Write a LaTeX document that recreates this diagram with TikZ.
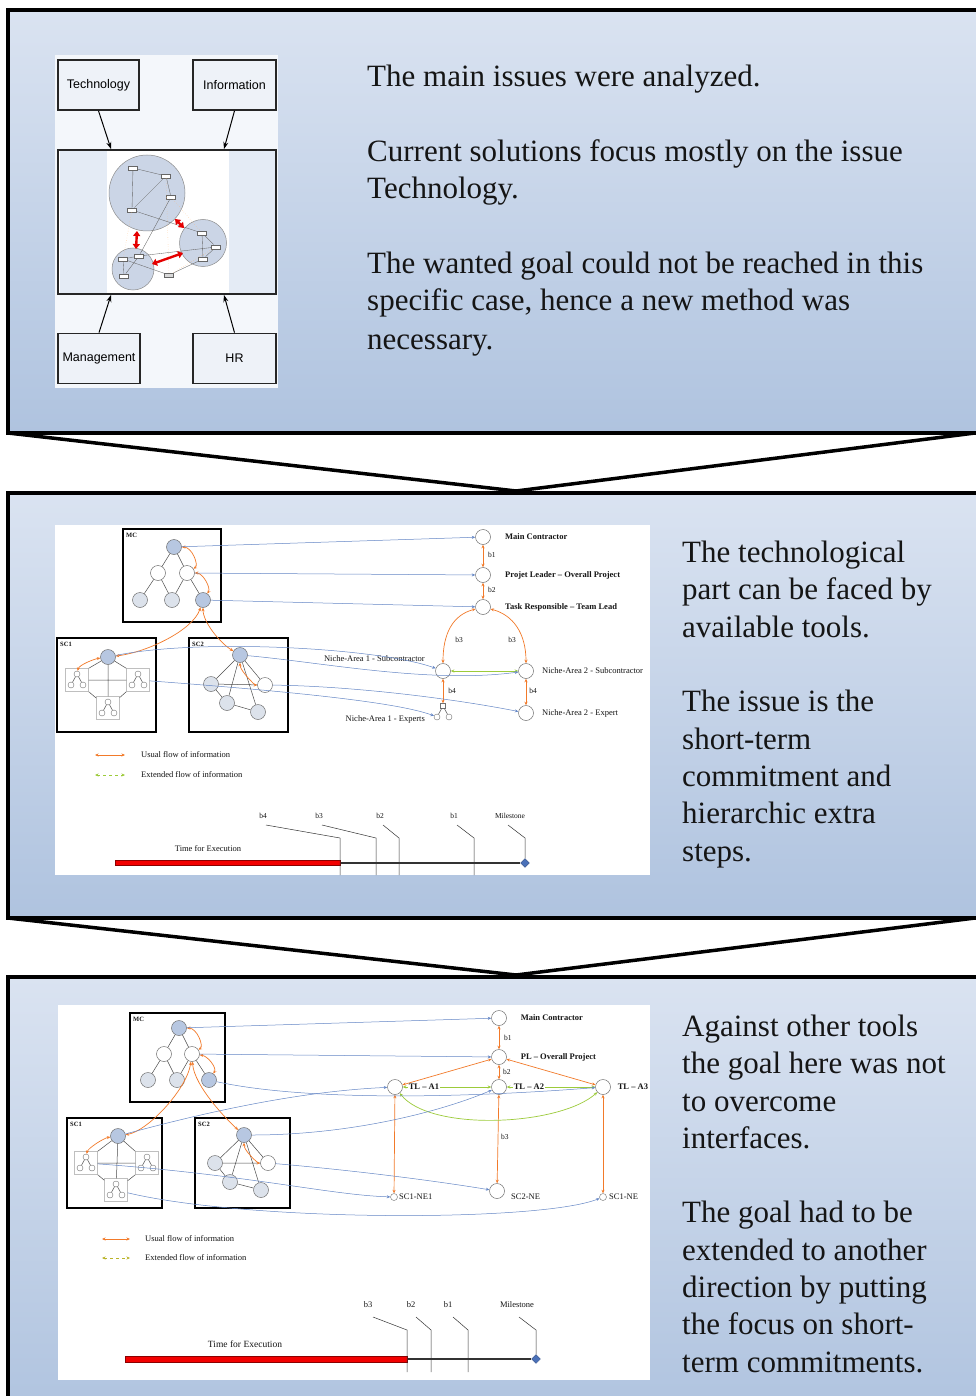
\documentclass[tikz,border=0pt]{standalone}
\usepackage{fontspec}
\setmainfont{Liberation Serif}
\newfontfamily\boxfont{Liberation Sans}
\usetikzlibrary{arrows.meta,shapes.geometric,calc}

\definecolor{paneltop}{HTML}{DAE3F1}
\definecolor{panelbot}{HTML}{AFC3DF}
\definecolor{ink}{HTML}{151515}
\definecolor{flowor}{HTML}{F27A2A}
\definecolor{flowgr}{HTML}{9CCB3A}
\definecolor{linkbl}{HTML}{6587C6}
\definecolor{nodetop}{HTML}{B7C7E1}
\definecolor{nodelow}{HTML}{DCE2EB}
\definecolor{nodeedge}{HTML}{707070}
\definecolor{bubble}{HTML}{CBD5E6}
\definecolor{imgbg}{HTML}{F4F7FB}
\definecolor{issuefill}{HTML}{EEF2F8}
\definecolor{corestrip}{HTML}{E4EBF5}
\definecolor{diamondbl}{HTML}{4A70B8}

\newcommand\bigtext{\fontsize{31}{37.5}\selectfont}

\tikzset{
  panel/.style={draw=black, line width=3.5pt, top color=paneltop, bottom color=panelbot},
  chevron/.style={draw=black, line width=3.5pt, fill=white, line join=miter},
  headline/.style={anchor=base west, inner sep=0pt, text=ink, font=\bigtext},
  issuebox/.style={draw=black!85, line width=1.7pt, fill=issuefill, font=\boxfont\fontsize{12.5}{14}\selectfont, inner sep=0pt, minimum height=50pt},
  issuearrow/.style={draw=black, line width=1pt, -{Stealth[length=7pt,width=5pt]}},
  bubblenode/.style={circle, draw=black!45, line width=0.5pt, fill=bubble, inner sep=0pt},
  chip/.style={draw=black!60, line width=0.4pt, fill=white, minimum width=9pt, minimum height=4.5pt, inner sep=0pt},
  thinlink/.style={draw=black!60, line width=0.35pt},
  paleline/.style={draw=orange!60, line width=0.35pt, dotted},
  redlink/.style={draw=red!90!black, line width=2.4pt, {Triangle[length=5pt,width=7pt]}-{Triangle[length=5pt,width=7pt]}},
  grpbox/.style={draw=black, line width=1.8pt},
  grplabel/.style={anchor=north west, inner sep=0pt, text=ink, font=\bfseries\fontsize{6.5}{7}\selectfont},
  nd/.style={circle, draw=nodeedge, line width=0.5pt, fill=white, minimum size=15pt, inner sep=0pt},
  ndtop/.style={nd, fill=nodetop},
  ndlow/.style={nd, fill=nodelow},
  dot/.style={circle, draw=nodeedge, line width=0.4pt, fill=white, minimum size=6pt, inner sep=0pt},
  tie/.style={draw=black!70, line width=0.5pt},
  uflow/.style={draw=flowor, line width=0.7pt, {Stealth[length=3.5pt,width=3pt]}-{Stealth[length=3.5pt,width=3pt]}},
  eflow/.style={draw=flowgr, line width=0.7pt, {Stealth[length=3.5pt,width=3pt]}-{Stealth[length=3.5pt,width=3pt]}},
  link/.style={draw=linkbl, line width=0.5pt, -{Stealth[length=3.5pt,width=3pt]}},
  lbl/.style={inner sep=0pt, text=ink, font=\fontsize{8.5}{10}\selectfont},
  lblb/.style={inner sep=0pt, text=ink, font=\bfseries\fontsize{8.5}{10}\selectfont},
  rolelbl/.style={lblb, anchor=west, fill=white, inner sep=0.6pt},
  smalllbl/.style={inner sep=0pt, text=ink, font=\fontsize{7.5}{9}\selectfont},
  tick/.style={draw=black!80, line width=0.5pt},
  milebar/.style={draw=black!80, line width=1.6pt},
  execbar/.style={draw=red!55!black, line width=0.4pt, fill=red!95!black},
  milestone/.style={diamond, fill=diamondbl, draw=diamondbl!70!black, line width=0.3pt, minimum size=9pt, inner sep=0pt},
  minitree/.pic={
    \node[draw=black!25, line width=0.4pt, minimum width=23pt, minimum height=23pt, inner sep=0pt] (-box) at (0,0) {};
    \node[dot] (-top) at (0,-6) {};
    \node[dot] (-l) at (-6,5) {};
    \node[dot] (-r) at (6,5) {};
    \draw[tie] (-top) -- (-l) (-top) -- (-r);
  }
}

\begin{document}
\begin{tikzpicture}[x=1pt, y=-1pt]
\useasboundingbox (0,0) rectangle (975,1396);

% ---------- three panels and the chevrons between them ----------
\path[panel] (8,10) rectangle (995,433);
\path[panel] (8,493) rectangle (995,918);
\path[panel] (8,977) rectangle (995,1420);
\draw[chevron] (8,433) -- (975,433) -- (516,491) -- cycle;
\draw[chevron] (8,918) -- (975,918) -- (516,975) -- cycle;

% ---------- panel 1: the four issues ----------
\fill[imgbg] (55,55) rectangle (278,388);
\node[issuebox, minimum width=81pt] (tech) at (98.5,85) {Technology};
\node[issuebox, minimum width=83pt] (info) at (234.5,85) {Information};
\node[issuebox, minimum width=218pt, minimum height=144pt, fill=white] (core) at (167,222) {};
\fill[corestrip] (59.5,151) rectangle (107,293);
\fill[corestrip] (229,151) rectangle (275,293);
\node[issuebox, minimum width=82pt] (mgmt) at (99,358.5) {Management};
\node[issuebox, minimum width=83pt] (hr) at (234.5,358.5) {HR};
\coordinate (coreTL) at (111,149);
\coordinate (coreTR) at (224,149);
\coordinate (coreBL) at (111,295);
\coordinate (coreBR) at (224,295);
\draw[issuearrow] (tech.south) -- (coreTL);
\draw[issuearrow] (info.south) -- (coreTR);
\draw[issuearrow] (mgmt.north) -- (coreBL);
\draw[issuearrow] (hr.north) -- (coreBR);

% network of three clusters inside the core box
\node[bubblenode, minimum size=76pt] (cbig) at (147,193) {};
\node[bubblenode, minimum size=47pt] (cright) at (203,243) {};
\node[bubblenode, minimum size=42pt] (cleft) at (133,269) {};
\node[chip] (k1) at (133,168) {};
\node[chip] (k2) at (166,176) {};
\node[chip] (k3) at (171,197) {};
\node[chip] (k4) at (132,210) {};
\node[chip] (k5) at (202,233) {};
\node[chip] (k6) at (216,247) {};
\node[chip] (k7) at (203,259) {};
\node[chip] (k8) at (123,259) {};
\node[chip] (k9) at (139,256) {};
\node[chip] (k10) at (124,276) {};
\node[chip, fill=black!15] (k11) at (169,275) {};
\draw[thinlink] (k1) -- (k2) (k2) -- (k3) (k1) -- (k4) (k2) -- (k4) (k3) -- (k9)
  (k5) -- (k6) (k6) -- (k7) (k5) -- (k7) (k9) -- (k6) (k8) -- (k9) (k8) -- (k10) (k9) -- (k10)
  (k11) -- (k7) (k11) -- (k8) (k4) -- (k5);
\draw[paleline] (k3) -- (k5) (k4) -- (k8) (k11) -- (k6) (k2) -- (k11);
\coordinate (ra1) at (137,231);
\coordinate (ra2) at (136,249);
\coordinate (rb1) at (175,219);
\coordinate (rb2) at (184,228);
\coordinate (rc1) at (152,264);
\coordinate (rc2) at (183,253);
\draw[redlink] (ra1) -- (ra2);
\draw[redlink] (rb1) -- (rb2);
\draw[redlink] (rc1) -- (rc2);

% panel 1 statements
\node[headline] (p1a) at (367,87) {The main issues were analyzed.};
\node[headline] (p1b) at (367,162) {Current solutions focus mostly on the issue};
\node[headline] (p1c) at (367,199) {Technology.};
\node[headline] (p1d) at (367,274) {The wanted goal could not be reached in this};
\node[headline] (p1e) at (367,311) {specific case, hence a new method was};
\node[headline] (p1f) at (367,349) {necessary.};

% ---------- panel 2: hierarchic flow ----------
\fill[white] (55,525) rectangle (650,875);

\draw[grpbox] (123,529) rectangle (221,622);
\node[grplabel] (mclbl) at (126,533) {MC};
\node[ndtop] (mc0) at (174,547) {};
\node[nd] (mc1) at (158,573) {};
\node[nd] (mc2) at (187,573) {};
\node[ndlow] (mc3) at (140,600) {};
\node[ndlow] (mc4) at (172,600) {};
\node[ndtop] (mc5) at (203,600) {};
\draw[tie] (mc0) -- (mc1) (mc0) -- (mc2) (mc1) -- (mc3) (mc1) -- (mc4) (mc2) -- (mc4) (mc2) -- (mc5);

\draw[grpbox] (57,638) rectangle (156,732);
\node[grplabel] (sc1lbl) at (60,642) {SC1};
\node[ndtop] (s1top) at (108,657) {};
\pic (lt) at (77,680) {minitree};
\pic (rt) at (138,680) {minitree};
\pic (bt) at (108,708) {minitree};
\draw[tie] (s1top) -- (bt-box) (lt-box) -- (rt-box) (s1top) -- (lt-box.north east) (s1top) -- (rt-box.north west)
  (lt-box.south east) -- (bt-box) (rt-box.south west) -- (bt-box);

\draw[grpbox] (189,638) rectangle (288,732);
\node[grplabel] (sc2lbl) at (192,642) {SC2};
\node[ndtop] (s2a) at (240,655) {};
\node[ndlow] (s2b) at (211,684) {};
\node[nd] (s2c) at (265,685) {};
\node[ndlow] (s2d) at (227,703) {};
\node[ndlow] (s2e) at (258,712) {};
\draw[tie] (s2a) -- (s2b) (s2a) -- (s2c) (s2a) -- (s2d) (s2a) -- (s2e) (s2b) -- (s2c) (s2b) -- (s2d) (s2d) -- (s2e);

\draw[uflow] (mc0) .. controls +(18,0) and +(12,-8) .. (mc2);
\draw[uflow] (mc2) .. controls +(16,0) and +(8,-12) .. (mc5);
\draw[uflow] (mc5) .. controls +(-10,30) and +(40,-5) .. (s1top);
\draw[uflow] (mc5) .. controls +(0,22) and +(-20,-12) .. (s2a);
\draw[uflow] (s1top) .. controls +(-14,2) and +(2,-9) .. (lt-top);
\draw[uflow] (s2a) .. controls +(0,16) and +(-10,0) .. (s2c);

% roles on the right
\node[nd] (mcR) at (483,537) {};
\node[nd] (plR) at (483,575) {};
\node[nd] (trR) at (483,607) {};
\node[lblb, anchor=west] (mcRl) at (505,537) {Main Contractor};
\node[lblb, anchor=west] (plRl) at (505,575) {Projet Leader – Overall Project};
\node[lblb, anchor=west] (trRl) at (505,607) {Task Responsible – Team Lead};
\node[smalllbl, anchor=west] (b1a) at (488,555) {b1};
\node[smalllbl, anchor=west] (b2a) at (488,590) {b2};
\node[nd] (n1) at (443,671) {};
\node[nd] (n2) at (526,671) {};
\node[lbl, anchor=east] (n1l) at (425,659) {Niche-Area 1 - Subcontractor};
\node[lbl, anchor=west] (n2l) at (542,671) {Niche-Area 2 - Subcontractor};
\node[smalllbl] (b3a) at (459,640) {b3};
\node[smalllbl] (b3b) at (512,640) {b3};
\node[draw=nodeedge, line width=0.4pt, fill=white, minimum size=5pt, inner sep=0pt] (ex1) at (443,706) {};
\node[dot] (ex1l) at (437,717) {};
\node[dot] (ex1r) at (449,717) {};
\draw[tie] (ex1) -- (ex1l) (ex1) -- (ex1r);
\node[nd] (ex2) at (526,713) {};
\node[lbl, anchor=east] (ex1t) at (425,719) {Niche-Area 1 - Experts};
\node[lbl, anchor=west] (ex2t) at (542,713) {Niche-Area 2 - Expert};
\node[smalllbl] (b4a) at (452,691) {b4};
\node[smalllbl] (b4b) at (533,691) {b4};

\draw[uflow] (mcR) -- (plR);
\draw[uflow] (plR) -- (trR);
\draw[uflow] (trR) .. controls +(-30,8) and +(0,-38) .. (n1);
\draw[uflow] (trR) .. controls +(30,8) and +(0,-38) .. (n2);
\draw[uflow] (n1) -- (ex1);
\draw[uflow] (n2) -- (ex2);
\draw[eflow] (n1) -- (n2);

\draw[link] (mc0) -- (mcR);
\draw[link] (mc2) -- (plR);
\draw[link] (mc5) -- (trR);
\draw[link] (s1top) .. controls (200,638) and (380,648) .. (n1);
\draw[link] (s2a) .. controls (320,662) and (430,684) .. (n2);
\draw[link] (rt-box) .. controls (300,692) and (400,703) .. (ex1l);
\draw[link] (s2c) .. controls (350,686) and (450,698) .. (ex2);

% legend
\coordinate (lg1a) at (95,755);
\coordinate (lg1b) at (125,755);
\coordinate (lg2a) at (95,775);
\coordinate (lg2b) at (125,775);
\draw[uflow] (lg1a) -- (lg1b);
\draw[eflow, dashed] (lg2a) -- (lg2b);
\node[lbl, anchor=west] (lg1t) at (141,755) {Usual flow of information};
\node[lbl, anchor=west] (lg2t) at (141,775) {Extended flow of information};

% time line
\coordinate (ts) at (115,863);
\coordinate (tq4) at (340,863);
\node[milestone] (ms) at (525,863) {};
\draw[milebar] (tq4) -- (ms);
\draw[execbar] (115,860.5) rectangle (340,865.5);
\node[lbl] (tfe) at (208,849) {Time for Execution};
\foreach \lx/\tx/\nm in {266/340/b4, 322/376/b3, 383/399/b2, 457/474/b1} {
  \node[smalllbl] (q\nm) at (\lx-3,816) {\nm};
  \coordinate (qa\nm) at (\lx,825);
  \coordinate (qb\nm) at (\tx,838);
  \coordinate (qc\nm) at (\tx,875);
  \draw[tick] (qa\nm) -- (qb\nm) -- (qc\nm);
}
\node[smalllbl] (qms) at (510,816) {Milestone};
\coordinate (qams) at (508,825);
\coordinate (qbms) at (525,838);
\draw[tick] (qams) -- (qbms) -- (ms);

% panel 2 statements
\node[headline] (p2a) at (682,562) {The technological};
\node[headline] (p2b) at (682,599) {part can be faced by};
\node[headline] (p2c) at (682,637) {available tools.};
\node[headline] (p2d) at (682,711) {The issue is the};
\node[headline] (p2e) at (682,749) {short-term};
\node[headline] (p2f) at (682,786) {commitment and};
\node[headline] (p2g) at (682,823) {hierarchic extra};
\node[headline] (p2h) at (682,861) {steps.};

% ---------- panel 3: flow with short-term commitments ----------
\fill[white] (58,1005) rectangle (650,1380);

\draw[grpbox] (130,1013) rectangle (225,1102);
\node[grplabel] (mclbl3) at (133,1017) {MC};
\node[ndtop] (m0) at (179,1028) {};
\node[nd] (m1) at (164,1054) {};
\node[nd] (m2) at (192,1054) {};
\node[ndlow] (m3) at (148,1080) {};
\node[ndlow] (m4) at (177,1080) {};
\node[ndtop] (m5) at (209,1080) {};
\draw[tie] (m0) -- (m1) (m0) -- (m2) (m1) -- (m3) (m1) -- (m4) (m2) -- (m4) (m2) -- (m5);

\draw[grpbox] (67,1118) rectangle (162,1208);
\node[grplabel] (sc1lbl3) at (70,1122) {SC1};
\node[ndtop] (t0) at (118,1136) {};
\pic (tl) at (86,1163) {minitree};
\pic (tr) at (147,1163) {minitree};
\pic (tb) at (116,1190) {minitree};
\draw[tie] (t0) -- (tb-box) (tl-box) -- (tr-box) (t0) -- (tl-box.north east) (t0) -- (tr-box.north west)
  (tl-box.south east) -- (tb-box) (tr-box.south west) -- (tb-box);

\draw[grpbox] (195,1118) rectangle (290,1208);
\node[grplabel] (sc2lbl3) at (198,1122) {SC2};
\node[ndtop] (u0) at (244,1135) {};
\node[ndlow] (u1) at (215,1163) {};
\node[nd] (u2) at (268,1163) {};
\node[ndlow] (u3) at (230,1182) {};
\node[ndlow] (u4) at (261,1190) {};
\draw[tie] (u0) -- (u1) (u0) -- (u2) (u0) -- (u3) (u0) -- (u4) (u1) -- (u2) (u1) -- (u3) (u3) -- (u4);

\draw[uflow] (m0) .. controls +(18,0) and +(12,-8) .. (m2);
\draw[uflow] (m2) .. controls +(16,2) and +(8,-12) .. (m5);
\draw[uflow] (m2) .. controls +(-5,35) and +(30,-5) .. (t0);
\draw[uflow] (m2) .. controls +(2,32) and +(-16,-14) .. (u0);
\draw[uflow] (t0) .. controls +(-14,2) and +(2,-9) .. (tl-top);
\draw[uflow] (u0) .. controls +(0,16) and +(-10,0) .. (u2);

% roles on the right
\node[nd] (R0) at (499,1018) {};
\node[nd] (R1) at (499,1057) {};
\node[nd] (A1) at (395,1087) {};
\node[nd] (A2) at (499,1087) {};
\node[nd] (A3) at (603,1087) {};
\node[dot, minimum size=7pt] (E1) at (394,1197) {};
\node[nd] (E2) at (497,1191) {};
\node[dot, minimum size=7pt] (E3) at (603,1197) {};
\node[lbl, anchor=west] (E1l) at (399,1197) {SC1-NE1};
\node[lbl, anchor=west] (E2l) at (511,1197) {SC2-NE};
\node[lbl, anchor=west] (E3l) at (609,1197) {SC1-NE};
\node[smalllbl, anchor=west] (c1) at (504,1038) {b1};
\node[smalllbl, anchor=west] (c2) at (503,1072) {b2};
\node[smalllbl, anchor=west] (c3) at (501,1137) {b3};

\draw[uflow] (R0) -- (R1);
\draw[uflow] (R1) -- (A1);
\draw[uflow] (R1) -- (A2);
\draw[uflow] (R1) -- (A3);
\draw[uflow] (A1) -- (E1);
\draw[uflow] (A2) -- (E2);
\draw[uflow] (A3) -- (E3);
\draw[eflow] (A1) -- (A2);
\draw[eflow] (A2) -- (A3);
\draw[eflow] (A1) .. controls (430,1132) and (560,1126) .. (A3);

\draw[link] (m0) -- (R0);
\draw[link] (m2) -- (R1);
\draw[link] (t0) .. controls (250,1100) and (330,1090) .. (A1);
\draw[link] (m5) .. controls (300,1100) and (450,1099) .. (A3);
\draw[link] (u0) .. controls (350,1135) and (440,1112) .. (A2);
\draw[link] (u2) .. controls (350,1170) and (430,1180) .. (E2);
\draw[link] (tl-box) .. controls (250,1175) and (330,1195) .. (E1);
\draw[link] (tb-box) .. controls (250,1222) and (540,1222) .. (E3);

% role names sit on top of the flow lines
\node[rolelbl] (R0l) at (520,1018) {Main Contractor};
\node[rolelbl] (R1l) at (520,1057) {PL – Overall Project};
\node[rolelbl] (A1l) at (408,1087) {TL – A1};
\node[rolelbl] (A2l) at (513,1087) {TL – A2};
\node[rolelbl] (A3l) at (617,1087) {TL – A3};

% legend
\coordinate (lh1a) at (102,1239);
\coordinate (lh1b) at (130,1239);
\coordinate (lh2a) at (102,1258);
\coordinate (lh2b) at (130,1258);
\draw[uflow] (lh1a) -- (lh1b);
\draw[eflow, dashed, draw=flowgr!70!orange] (lh2a) -- (lh2b);
\node[lbl, anchor=west] (lh1t) at (145,1239) {Usual flow of information};
\node[lbl, anchor=west] (lh2t) at (145,1258) {Extended flow of information};

% time line
\node[milestone] (ms3) at (536,1359) {};
\coordinate (tr3) at (407,1359);
\draw[milebar] (tr3) -- (ms3);
\draw[execbar] (125,1356.3) rectangle (407,1361.7);
\node[lbl, font=\fontsize{9.5}{11}\selectfont] (tfe3) at (245,1344) {Time for Execution};
\foreach \lx/\tx/\nm in {373/407/b3, 416/431/b2, 453/468/b1} {
  \node[lbl] (r\nm) at (\lx-5,1305) {\nm};
  \coordinate (ra\nm) at (\lx,1317);
  \coordinate (rb\nm) at (\tx,1330);
  \coordinate (rc\nm) at (\tx,1372);
  \draw[tick] (ra\nm) -- (rb\nm) -- (rc\nm);
}
\node[lbl] (rms) at (517,1305) {Milestone};
\coordinate (rams) at (519,1317);
\coordinate (rbms) at (536,1330);
\draw[tick] (rams) -- (rbms) -- (ms3);

% panel 3 statements
\node[headline] (p3a) at (682,1036) {Against other tools};
\node[headline] (p3b) at (682,1073) {the goal here was not};
\node[headline] (p3c) at (682,1111) {to overcome};
\node[headline] (p3d) at (682,1148) {interfaces.};
\node[headline] (p3e) at (682,1222) {The goal had to be};
\node[headline] (p3f) at (682,1260) {extended to another};
\node[headline] (p3g) at (682,1297) {direction by putting};
\node[headline] (p3h) at (682,1334) {the focus on short-};
\node[headline] (p3i) at (682,1372) {term commitments.};

\end{tikzpicture}
\end{document}
